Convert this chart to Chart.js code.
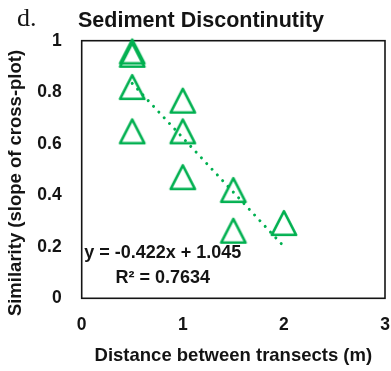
<!DOCTYPE html>
<html>
<head>
<meta charset="utf-8">
<script src="https://cdn.jsdelivr.net/npm/chart.js@4.4.1/dist/chart.umd.min.js"></script>
<style>
  html, body { margin: 0; padding: 0; background: #ffffff; }
  #wrap { width: 391px; height: 371px; }
</style>
</head>
<body>
<div id="wrap"><canvas id="chart" width="391" height="371"></canvas></div>
<script>
// Pairwise transect comparisons: separation distance vs. similarity
const distance   = [0.5, 0.5, 0.5, 0.5, 1, 1, 1, 1.5, 1.5, 2];
const similarity = [0.958, 0.945, 0.82, 0.648, 0.767, 0.648, 0.47, 0.42, 0.262, 0.292];

// Linear trendline, as stated in its label
const trendSlope = -0.422;
const trendIntercept = 1.045;
const trendR2 = 0.7634;
const trendRange = [0.5, 2];

const xTickLabels = ['0', '1', '2', '3'];
const yTickLabels = ['0', '0.2', '0.4', '0.6', '0.8', '1'];

const GREEN = '#00B050';
const INK = '#141414';
const SANS = "'Liberation Sans', Arial, sans-serif";

// Hollow triangle marker, centred on its bounding box
function triangleMarker() {
  const size = 32;
  const c = document.createElement('canvas');
  c.width = size; c.height = size;
  const g = c.getContext('2d');
  g.strokeStyle = GREEN;
  g.lineWidth = 2.6;
  g.lineJoin = 'round';
  g.beginPath();
  g.moveTo(16, 4.2);
  g.lineTo(28.2, 27.8);
  g.lineTo(3.8, 27.8);
  g.closePath();
  g.stroke();
  return c;
}

const points = distance.map((d, i) => ({ x: d, y: similarity[i] }));
const trendPoints = trendRange.map(x => ({ x: x, y: trendSlope * x + trendIntercept }));

const decorations = {
  id: 'decorations',
  beforeDatasetsDraw(chart) {
    const { ctx, chartArea: a } = chart;
    ctx.save();
    ctx.strokeStyle = INK;
    ctx.lineWidth = 1.6;
    ctx.strokeRect(a.left, a.top, a.right - a.left, a.bottom - a.top);
    ctx.restore();
  },
  afterDraw(chart) {
    const { ctx, chartArea: a } = chart;
    ctx.save();
    ctx.fillStyle = INK;

    // panel letter and title
    ctx.textAlign = 'left';
    ctx.textBaseline = 'alphabetic';
    ctx.font = "26px 'Liberation Serif', 'Times New Roman', serif";
    ctx.fillText('d.', 17, 26);
    ctx.font = 'bold 21.5px ' + SANS;
    ctx.fillText('Sediment Discontinutity', 78, 26.5);

    // y axis title
    ctx.save();
    ctx.translate(15.5, 183);
    ctx.rotate(-Math.PI / 2);
    ctx.textAlign = 'center';
    ctx.textBaseline = 'middle';
    ctx.font = 'bold 18.5px ' + SANS;
    ctx.fillText('Similarity (slope of cross-plot)', 0, 0);
    ctx.restore();

    // trendline equation
    ctx.textAlign = 'center';
    ctx.textBaseline = 'middle';
    ctx.font = 'bold 18px ' + SANS;
    const eq = 'y = ' + trendSlope.toFixed(3) + 'x + ' + trendIntercept.toFixed(3);
    ctx.fillText(eq, a.left + 81, a.bottom - 45);
    ctx.fillText('R² = ' + trendR2.toFixed(4), a.left + 81, a.bottom - 20);
    ctx.restore();
  }
};

new Chart(document.getElementById('chart'), {
  type: 'scatter',
  data: {
    datasets: [
      {
        label: 'Similarity',
        data: points,
        pointStyle: triangleMarker(),
        // the marker image sets the drawn size; a tiny radius keeps layout overflow small
        pointRadius: 1,
        pointHoverRadius: 1,
        pointBorderWidth: 0,
        clip: false
      },
      {
        label: 'Linear trend',
        data: trendPoints,
        showLine: true,
        borderColor: GREEN,
        borderWidth: 3,
        borderDash: [0.01, 7.8],
        borderCapStyle: 'round',
        pointRadius: 0,
        clip: false
      }
    ]
  },
  options: {
    responsive: false,
    animation: false,
    devicePixelRatio: 1,
    layout: { padding: { top: 40.7, right: 6, left: 0, bottom: 0 } },
    plugins: {
      legend: { display: false },
      tooltip: { enabled: false },
      title: { display: false }
    },
    scales: {
      x: {
        type: 'linear',
        min: 0, max: 3,
        afterFit(scale) {
          scale.height = 72.7;
          scale.paddingLeft = 0;
          scale.paddingRight = 0;
        },
        grid: { display: false, drawTicks: false },
        border: { display: false },
        ticks: {
          stepSize: 1,
          padding: 16,
          color: INK,
          font: { family: SANS, size: 17.5, weight: 'bold' },
          callback: (v, i) => xTickLabels[i]
        },
        title: {
          display: true,
          text: 'Distance between transects (m)',
          color: INK,
          font: { family: SANS, size: 18.5, weight: 'bold' },
          padding: { top: 0, bottom: 4 }
        }
      },
      y: {
        type: 'linear',
        min: 0, max: 1,
        afterFit(scale) { scale.width = 81.7; },
        grid: { display: false, drawTicks: false },
        border: { display: false },
        ticks: {
          stepSize: 0.2,
          padding: 20,
          color: INK,
          font: { family: SANS, size: 17.5, weight: 'bold' },
          callback: (v, i) => yTickLabels[i]
        }
      }
    }
  },
  plugins: [decorations]
});
</script>
</body>
</html>
